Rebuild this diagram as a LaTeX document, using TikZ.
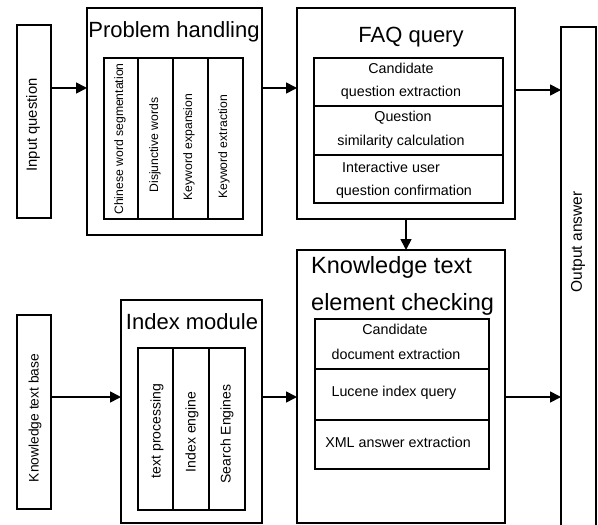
\documentclass[tikz,border=0pt]{standalone}
\usepackage{fontspec}
\setmainfont{Liberation Sans}
\usetikzlibrary{arrows.meta}
\tikzset{
  box/.style={draw, line width=1.7bp, rectangle, inner sep=0pt, outer sep=0pt},
  arr/.style={line width=1.7bp, -{Triangle[length=11bp,width=11bp]}},
  title/.style={inner sep=0pt, anchor=base, font=\fontsize{22bp}{26bp}\selectfont},
  ktitle/.style={inner sep=0pt, anchor=base west, font=\fontsize{23.5bp}{28bp}\selectfont},
  body/.style={inner sep=0pt, anchor=base, font=\fontsize{14.3bp}{17bp}\selectfont},
  rotsmall/.style={inner sep=0pt, rotate=90, font=\fontsize{12.2bp}{14bp}\selectfont},
  rotmid/.style={inner sep=0pt, rotate=90, font=\fontsize{14bp}{16bp}\selectfont},
}
\newcommand\mybox[6][]{%
  \node[box,#1,minimum width={((#5)-(#3))*1bp},minimum height={((#6)-(#4))*1bp}]
    (#2) at ({((#3)+(#5))/2},{((#4)+(#6))/2}) {};}
\begin{document}
\begin{tikzpicture}[x=1bp,y=-1bp]
\useasboundingbox (0,0) rectangle (598,525);
% input question
\mybox{inq}{17}{25}{51}{218}
\node[rotmid, font=\fontsize{14.8bp}{17bp}\selectfont] (inqt) at (33,125) {Input question};
% problem handling
\mybox{ph}{87}{8}{262}{235}
\node[title] (pht) at (174,38) {Problem handling};
\mybox{phc1}{104}{58}{138}{219}
\mybox{phc2}{138}{58}{173}{219}
\mybox{phc3}{173}{58}{208}{219}
\mybox{phc4}{208}{58}{243}{219}
\node[rotsmall] (pht1) at (120,139) {Chinese word segmentation};
\node[rotsmall] (pht2) at (155,145) {Disjunctive words};
\node[rotsmall] (pht3) at (189,147) {Keyword expansion};
\node[rotsmall] (pht4) at (224,147) {Keyword extraction};
% FAQ query
\mybox{faq}{297}{8}{515}{219}
\node[title] (faqt) at (411,43) {FAQ query};
\mybox{faqc1}{314}{58}{503}{106}
\mybox{faqc2}{314}{106}{503}{155}
\mybox{faqc3}{314}{155}{503}{203}
\node[body] (faqt1a) at (401,74) {Candidate};
\node[body] (faqt1b) at (401,97) {question extraction};
\node[body] (faqt2a) at (403,122) {Question};
\node[body] (faqt2b) at (401,146) {similarity calculation};
\node[body] (faqt3a) at (391,173) {Interactive user};
\node[body] (faqt3b) at (404,196) {question confirmation};
% output
\mybox{out}{561}{27}{596}{530}
\node[rotmid, font=\fontsize{15.5bp}{18bp}\selectfont] (outt) at (578,242) {Output answer};
% knowledge text base
\mybox{kb}{17}{315}{51}{509}
\node[rotmid, font=\fontsize{13.8bp}{16bp}\selectfont] (kbt) at (35,418) {Knowledge text base};
% index module
\mybox{im}{121}{300}{262}{523}
\node[title] (imt) at (192,329) {Index module};
\mybox{imc1}{138}{348}{173}{510}
\mybox{imc2}{173}{348}{209}{510}
\mybox{imc3}{209}{348}{245}{510}
\node[rotmid] (imt1) at (157,431) {text processing};
\node[rotmid] (imt2) at (192,432) {Index engine};
\node[rotmid] (imt3) at (227,434) {Search Engines};
% knowledge text element checking
\mybox{kc}{297}{250}{505}{523}
\node[ktitle] (kct1) at (311,273) {Knowledge text};
\node[ktitle] (kct2) at (311,310) {element checking};
\mybox{kcc1}{315}{319}{489}{369}
\mybox{kcc2}{315}{369}{489}{420}
\mybox{kcc3}{315}{420}{489}{469}
\node[body] (kcta) at (395,334) {Candidate};
\node[body] (kctb) at (396,359) {document extraction};
\node[body] (kct2l) at (394,396) {Lucene index query};
\node[body] (kct3l) at (398,447) {XML answer extraction};
% connectors
\coordinate (ya) at (0,88);
\coordinate (yb) at (0,90);
\coordinate (yc) at (0,397);
\draw[arr] (inq.east |- ya) -- (ph.west |- ya);
\draw[arr] (ph.east |- ya) -- (faq.west |- ya);
\draw[arr] (faq.east |- yb) -- (out.west |- yb);
\draw[arr] (faq.south) -- (kc.north -| faq.south);
\draw[arr] (kb.east |- yc) -- (im.west |- yc);
\draw[arr] (im.east |- yc) -- (kc.west |- yc);
\draw[arr] (kc.east |- yc) -- (out.west |- yc);
\end{tikzpicture}
\end{document}
